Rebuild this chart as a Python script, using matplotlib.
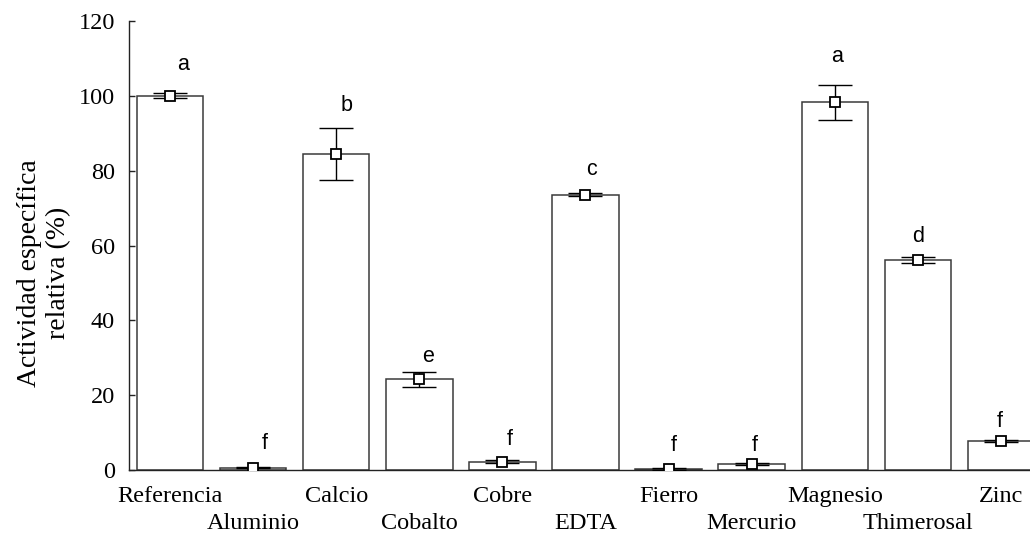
import matplotlib
matplotlib.use("Agg")
import matplotlib.pyplot as plt
import numpy as np

categories = ["Referencia", "Aluminio", "Calcio", "Cobalto", "Cobre", "EDTA",
              "Fierro", "Mercurio", "Magnesio", "Thimerosal", "Zinc"]
values = [100.0, 0.7, 84.4, 24.3, 2.3, 73.6, 0.3, 1.7, 98.2, 56.2, 7.8]
errors = [0.7, 0.2, 6.9, 2.0, 0.4, 0.4, 0.2, 0.3, 4.7, 0.8, 0.3]
letters = ["a", "f", "b", "e", "f", "c", "f", "f", "a", "d", "f"]
letter_y = [108.2, 7.2, 97.5, 30.5, 8.1, 80.4, 6.5, 6.7, 110.4, 62.3, 13.0]
yticks = [0, 20, 40, 60, 80, 100, 120]

W, H = 1030, 538
fig = plt.figure(figsize=(W / 100, H / 100), dpi=100)
ax = fig.add_axes([129 / W, 1 - 470.3 / H, (W - 129) / W, (470.3 - 20.7) / H])

x = np.arange(len(categories))
ax.bar(x, values, width=0.8, color="white", edgecolor="#3a3a3a", linewidth=1.1, zorder=2)
ax.errorbar(x, values, yerr=errors, fmt="none", ecolor="black", elinewidth=1.0,
            capsize=12, capthick=1.0, zorder=3)
ax.plot(x, values, linestyle="none", marker="s", markersize=7.5, markerfacecolor="white",
        markeredgecolor="black", markeredgewidth=1.3, zorder=4)

for i, (lab, ly) in enumerate(zip(letters, letter_y)):
    ax.text(0.16 + i * 0.983, ly, lab, ha="center", va="center",
            fontfamily="Liberation Sans", fontsize=15.5, color="black", zorder=5)

ax.set_xlim(-0.494, 10.35)
ax.set_ylim(0, 120)
ax.set_yticks(yticks)
ax.set_yticklabels([str(t) for t in yticks], fontfamily="Liberation Serif", fontsize=17.5)

even = x[::2]
odd = x[1::2]
ax.set_xticks(even)
ax.set_xticklabels([categories[i] for i in even], fontfamily="Liberation Serif", fontsize=17.5)
ax.set_xticks(odd, minor=True)
ax.set_xticklabels([categories[i] for i in odd], minor=True,
                   fontfamily="Liberation Serif", fontsize=17.5)

ax.tick_params(axis="y", direction="in", length=4, width=1, pad=10, colors="#222222")
ax.tick_params(axis="x", which="major", direction="in", length=3, width=1, pad=11,
               colors="#222222")
ax.tick_params(axis="x", which="minor", direction="in", length=3, width=1, pad=30.5,
               colors="#222222")
for lbl in (ax.get_xticklabels() + ax.get_xticklabels(minor=True)
            + ax.get_yticklabels()):
    lbl.set_color("black")

ax.spines["top"].set_visible(False)
ax.spines["right"].set_visible(False)
ax.spines["left"].set_color("#222222")
ax.spines["bottom"].set_color("#222222")
ax.spines["left"].set_linewidth(1.0)
ax.spines["bottom"].set_linewidth(1.0)

fig.text(44 / W, 1 - 273 / H, "Actividad específica\nrelativa (%)", rotation=90,
         ha="center", va="center", multialignment="center",
         fontfamily="Liberation Serif", fontsize=20, linespacing=1.2)

fig.savefig("out.png", dpi=100, facecolor="white")
